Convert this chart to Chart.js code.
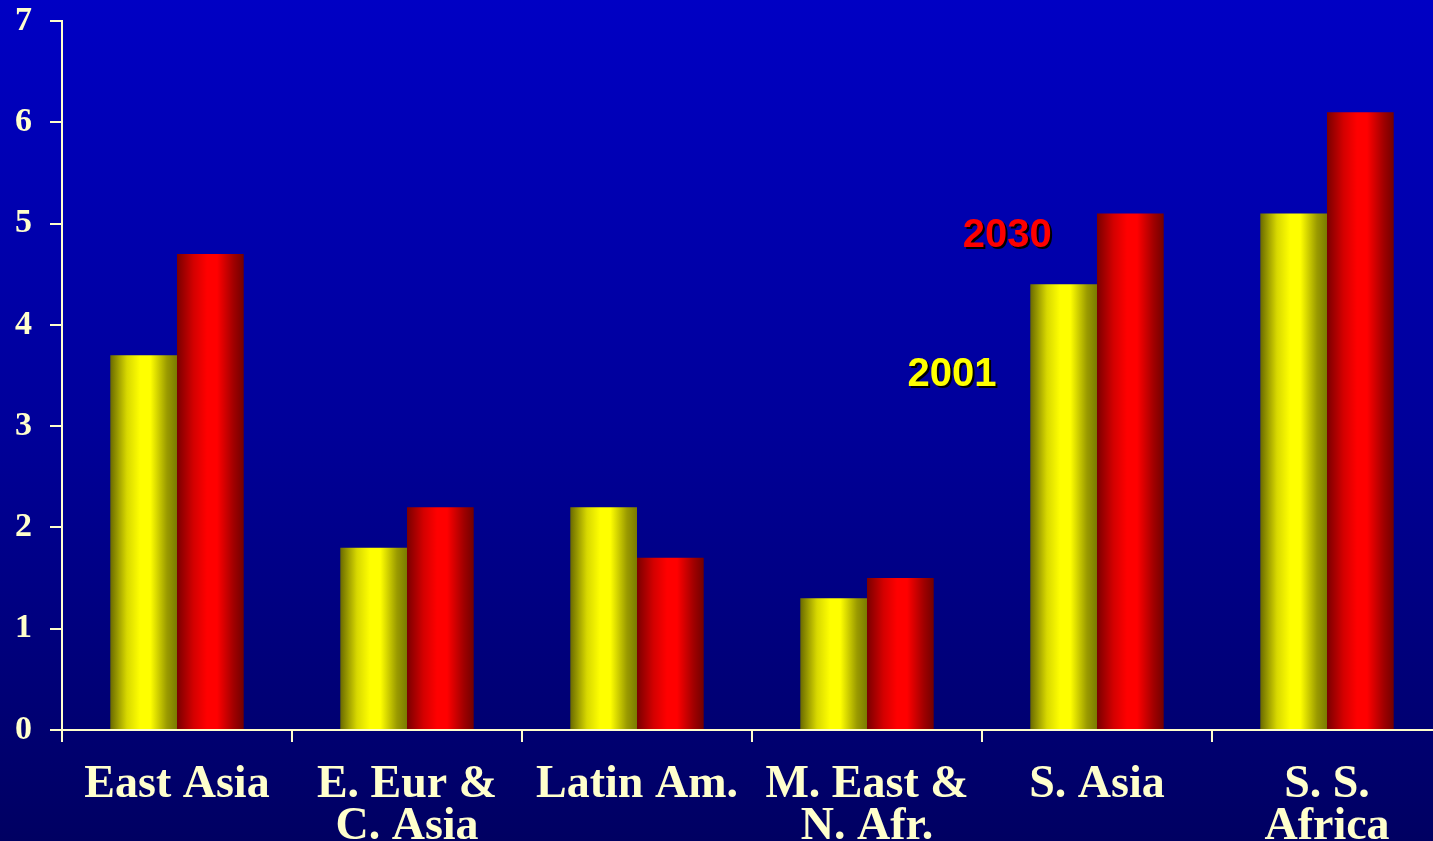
<!DOCTYPE html>
<html>
<head>
<meta charset="utf-8">
<title>Regions 2001 vs 2030</title>
<script src="https://cdn.jsdelivr.net/npm/chart.js@4/dist/chart.umd.min.js"></script>
<style>
    html, body { margin: 0; padding: 0; overflow: hidden; background: #000070; }
    #wrap { position: relative; width: 1450px; height: 841px; }
</style>
</head>
<body>
<div id="wrap"><canvas id="regionChart" width="1450" height="841"></canvas></div>
<script>
// Data
const REGIONS = [
    ['East Asia'],
    ['E. Eur &', 'C. Asia'],
    ['Latin Am.'],
    ['M. East &', 'N. Afr.'],
    ['S. Asia'],
    ['S. S.', 'Africa']
];
const VALUES_2001 = [3.7, 1.8, 2.2, 1.3, 4.4, 5.1];
const VALUES_2030 = [4.7, 2.2, 1.7, 1.5, 5.1, 6.1];
const SERIES = ['2001', '2030'];
const Y_MIN = 0;
const Y_MAX = 7;
const Y_STEP = 1;

// Colors
const CREAM = '#FFFFCC';
const YELLOW_STOPS = ['#6a6a00', '#d8d800', '#ffff00', '#ffff00', '#9a9a00', '#7a7a00'];
const RED_STOPS = ['#7a0000', '#d40000', '#ff0000', '#ff0000', '#a00000', '#720000'];
const CAT_PCT = 0.58;

// Shaded cylinder-like fill for each bar, built from the category scale
function barGradient(c, stops, side) {
    const chart = c.chart;
    const xs = chart.scales.x;
    if (!xs || c.dataIndex === undefined || !chart.data.labels) return stops[2];
    const center = xs.getPixelForValue(c.dataIndex);
    const half = xs.width / chart.data.labels.length * CAT_PCT / 2;
    if (!isFinite(center) || !isFinite(half) || half <= 0) return stops[2];
    const x0 = side < 0 ? center - half : center;
    const g = chart.ctx.createLinearGradient(x0, 0, x0 + half, 0);
    const pos = [0, 0.25, 0.45, 0.6, 0.85, 1];
    stops.forEach((s, i) => g.addColorStop(pos[i], s));
    return g;
}

const backgroundPlugin = {
    id: 'blueBackground',
    beforeDraw(chart) {
        const { ctx, width, height } = chart;
        const g = ctx.createLinearGradient(0, 0, 0, height);
        g.addColorStop(0, '#0000c4');
        g.addColorStop(0.5, '#00009a');
        g.addColorStop(1, '#000062');
        ctx.save();
        ctx.fillStyle = g;
        ctx.fillRect(0, 0, width, height);
        ctx.restore();
    }
};

// Floating series names next to the S. Asia bars
const seriesNamePlugin = {
    id: 'seriesNames',
    afterDatasetsDraw(chart, args, opts) {
        const { ctx, scales: { x, y } } = chart;
        ctx.save();
        ctx.font = 'bold 40px "Liberation Sans", Arial, sans-serif';
        ctx.textAlign = 'center';
        ctx.textBaseline = 'middle';
        opts.items.forEach(item => {
            const px = x.getPixelForValue(0) + (x.getPixelForValue(1) - x.getPixelForValue(0)) * item.at;
            const py = y.getPixelForValue(item.level);
            ctx.fillStyle = '#000000';
            ctx.fillText(item.text, px + 2, py + 2);
            ctx.fillStyle = item.color;
            ctx.fillText(item.text, px, py);
        });
        ctx.restore();
    }
};

const ctx = document.getElementById('regionChart');
new Chart(ctx, {
    type: 'bar',
    data: {
        labels: REGIONS,
        datasets: [{
            label: SERIES[0],
            data: VALUES_2001,
            backgroundColor: c => barGradient(c, YELLOW_STOPS, -1),
            borderWidth: 0,
            categoryPercentage: CAT_PCT,
            barPercentage: 1
        }, {
            label: SERIES[1],
            data: VALUES_2030,
            backgroundColor: c => barGradient(c, RED_STOPS, 1),
            borderWidth: 0,
            categoryPercentage: CAT_PCT,
            barPercentage: 1
        }]
    },
    options: {
        responsive: false,
        animation: false,
        layout: { padding: { top: 21, right: 8, left: 0, bottom: 0 } },
        plugins: {
            legend: { display: false },
            tooltip: { enabled: false },
            seriesNames: {
                items: [
                    { text: SERIES[1], color: '#ff0000', at: 3.61, level: 4.88 },
                    { text: SERIES[0], color: '#ffff00', at: 3.37, level: 3.51 }
                ]
            }
        },
        scales: {
            x: {
                grid: {
                    offset: true,
                    drawOnChartArea: false,
                    tickLength: 12,
                    color: CREAM,
                    lineWidth: 2
                },
                border: { color: CREAM, width: 2 },
                ticks: {
                    color: CREAM,
                    autoSkip: false,
                    maxRotation: 0,
                    padding: 22,
                    font: { family: '"Liberation Serif", "Times New Roman", serif', size: 46, weight: 'bold', lineHeight: 0.92 }
                },
                afterFit: s => { s.height = 111; s.paddingLeft = 0; s.paddingRight = 0; }
            },
            y: {
                min: Y_MIN,
                max: Y_MAX,
                grid: {
                    drawOnChartArea: false,
                    tickLength: 12,
                    color: CREAM,
                    lineWidth: 2
                },
                border: { color: CREAM, width: 2 },
                ticks: {
                    stepSize: Y_STEP,
                    color: CREAM,
                    padding: 18,
                    font: { family: '"Liberation Serif", "Times New Roman", serif', size: 34, weight: 'bold' }
                },
                // keep the plot top fixed instead of reserving room for the top label
                afterFit: s => { s.width = 62; s.paddingTop = 0; s.paddingBottom = 0; }
            }
        }
    },
    plugins: [backgroundPlugin, seriesNamePlugin]
});
</script>
</body>
</html>
